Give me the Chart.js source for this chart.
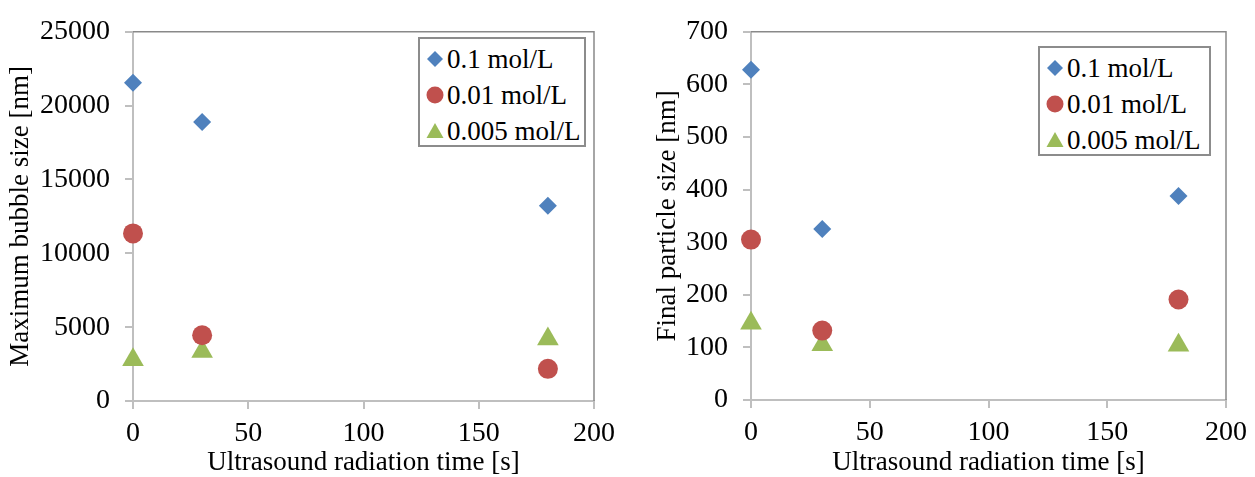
<!DOCTYPE html>
<html>
<head>
<meta charset="utf-8">
<script src="https://cdn.jsdelivr.net/npm/chart.js@4/dist/chart.umd.min.js"></script>
<style>
  html, body { margin: 0; padding: 0; background: #fff; }
  body { width: 1255px; height: 477px; position: relative; overflow: hidden; font-family: 'Liberation Serif', 'Times New Roman', serif; }
  .panel { position: absolute; top: 0; height: 477px; }
  .legend {
    position: absolute; background: #fff; border: 2px solid #8c8c8c;
    font-size: 27px; color: #000; padding: 2px 6px 2px 6px; box-sizing: border-box;
  }
  .legend .row { display: flex; align-items: center; height: 36px; white-space: nowrap; }
  .legend svg { width: 18px; height: 18px; margin-right: 3px; flex: none; }
</style>
</head>
<body>
<div class="panel" style="left:0;width:627px"><canvas id="bubble-chart"></canvas></div>
<div class="panel" style="left:627px;width:628px"><canvas id="particle-chart"></canvas></div>
<div class="legend" id="bubble-legend" style="left:418px;top:37px;width:168px;height:110px"></div>
<div class="legend" id="particle-legend" style="left:1038px;top:46px;width:173px;height:110px"></div>
<script>
// ── Data ────────────────────────────────────────────────
const times = [0, 30, 180];
const seriesLabels = ['0.1 mol/L', '0.01 mol/L', '0.005 mol/L'];

const bubble01 = [21550, 18900, 13220];
const bubble001 = [11350, 4450, 2180];
const bubble0005 = [2800, 3350, 4200];

const particle01 = [628, 325, 388];
const particle001 = [305, 132, 191];
const particle0005 = [146, 105, 104];

const xTicks = [0, 50, 100, 150, 200];

// ── Style ───────────────────────────────────────────────
const colors = ['#4F81BD', '#C0504D', '#9BBB59'];
const shapes = ['rectRot', 'circle', 'triangle'];
const radii = [9, 10, 12.5];
const FONT = "'Liberation Serif', 'Times New Roman', serif";
const AXIS_GRAY = '#BFBFBF';
const TICK_SIZE = 28;
const TITLE_SIZE = 27;

Chart.defaults.font.family = FONT;
Chart.defaults.font.size = TICK_SIZE;
Chart.defaults.color = '#000';

function toPoints(values) {
  return values.map((v, i) => ({ x: times[i], y: v }));
}

// top and right edges of the plot area
const plotBorder = {
  id: 'plotBorder',
  beforeDatasetsDraw(chart) {
    const { ctx, chartArea: a } = chart;
    ctx.save();
    ctx.strokeStyle = '#898989';
    ctx.lineWidth = 1.5;
    ctx.beginPath();
    ctx.moveTo(a.left, a.top);
    ctx.lineTo(a.right, a.top);
    ctx.lineTo(a.right, a.bottom);
    ctx.stroke();
    ctx.restore();
  }
};

function makeChart(id, seriesData, yMax, yStep, yTitle, opts) {
  const canvas = document.getElementById(id);
  return new Chart(canvas, {
    type: 'scatter',
    data: {
      datasets: seriesData.map((vals, i) => ({
        label: seriesLabels[i],
        data: toPoints(vals),
        pointStyle: shapes[i],
        pointRadius: radii[i],
        pointHoverRadius: radii[i],
        backgroundColor: colors[i],
        borderColor: colors[i],
        borderWidth: 0,
        clip: false
      }))
    },
    options: {
      responsive: true,
      maintainAspectRatio: false,
      animation: false,
      layout: { padding: { left: 0, top: opts.top, right: opts.right, bottom: 0 } },
      plugins: { legend: { display: false }, tooltip: { enabled: false } },
      scales: {
        x: {
          type: 'linear',
          min: 0, max: 200,
          afterBuildTicks: (s) => { s.ticks = xTicks.map(v => ({ value: v })); },
          afterFit: (s) => { s.height = opts.xHeight; },
          grid: { drawOnChartArea: false, drawTicks: true, tickLength: 8, color: AXIS_GRAY, lineWidth: 2 },
          border: { color: AXIS_GRAY, width: 2 },
          ticks: { padding: 8, callback: (v) => String(v) },
          title: {
            display: true, text: 'Ultrasound radiation time [s]',
            font: { size: TITLE_SIZE, lineHeight: 1 }, padding: { top: 0, bottom: 1 }
          }
        },
        y: {
          type: 'linear',
          min: 0, max: yMax,
          ticks: { stepSize: yStep, padding: 15, callback: (v) => String(v) },
          afterFit: (s) => { s.width = opts.yWidth; },
          grid: { drawOnChartArea: false, drawTicks: true, tickLength: 8, color: AXIS_GRAY, lineWidth: 2 },
          border: { color: AXIS_GRAY, width: 2 },
          title: {
            display: true, text: yTitle,
            font: { size: TITLE_SIZE, lineHeight: 1.2 }, padding: { top: opts.titlePad, bottom: 0 }
          }
        }
      }
    },
    plugins: [plotBorder]
  });
}

makeChart('bubble-chart', [bubble01, bubble001, bubble0005], 25000, 5000,
  'Maximum bubble size [nm]', { top: 26, right: 33, xHeight: 76, yWidth: 133, titlePad: 5 });

makeChart('particle-chart', [particle01, particle001, particle0005], 700, 100,
  'Final particle size [nm]', { top: 25, right: 24, xHeight: 77, yWidth: 124, titlePad: 25 });

// ── HTML legends ────────────────────────────────────────
function markerSvg(i) {
  const c = colors[i];
  if (shapes[i] === 'rectRot') return `<svg viewBox="0 0 18 18"><polygon points="9,1 17,9 9,17 1,9" fill="${c}"/></svg>`;
  if (shapes[i] === 'circle') return `<svg viewBox="0 0 18 18"><circle cx="9" cy="9" r="8.5" fill="${c}"/></svg>`;
  return `<svg viewBox="0 0 18 18"><polygon points="9,1 17.5,16 0.5,16" fill="${c}"/></svg>`;
}

['bubble-legend', 'particle-legend'].forEach(id => {
  document.getElementById(id).innerHTML = seriesLabels
    .map((lbl, i) => `<div class="row">${markerSvg(i)}<span>${lbl}</span></div>`)
    .join('');
});
</script>
</body>
</html>
